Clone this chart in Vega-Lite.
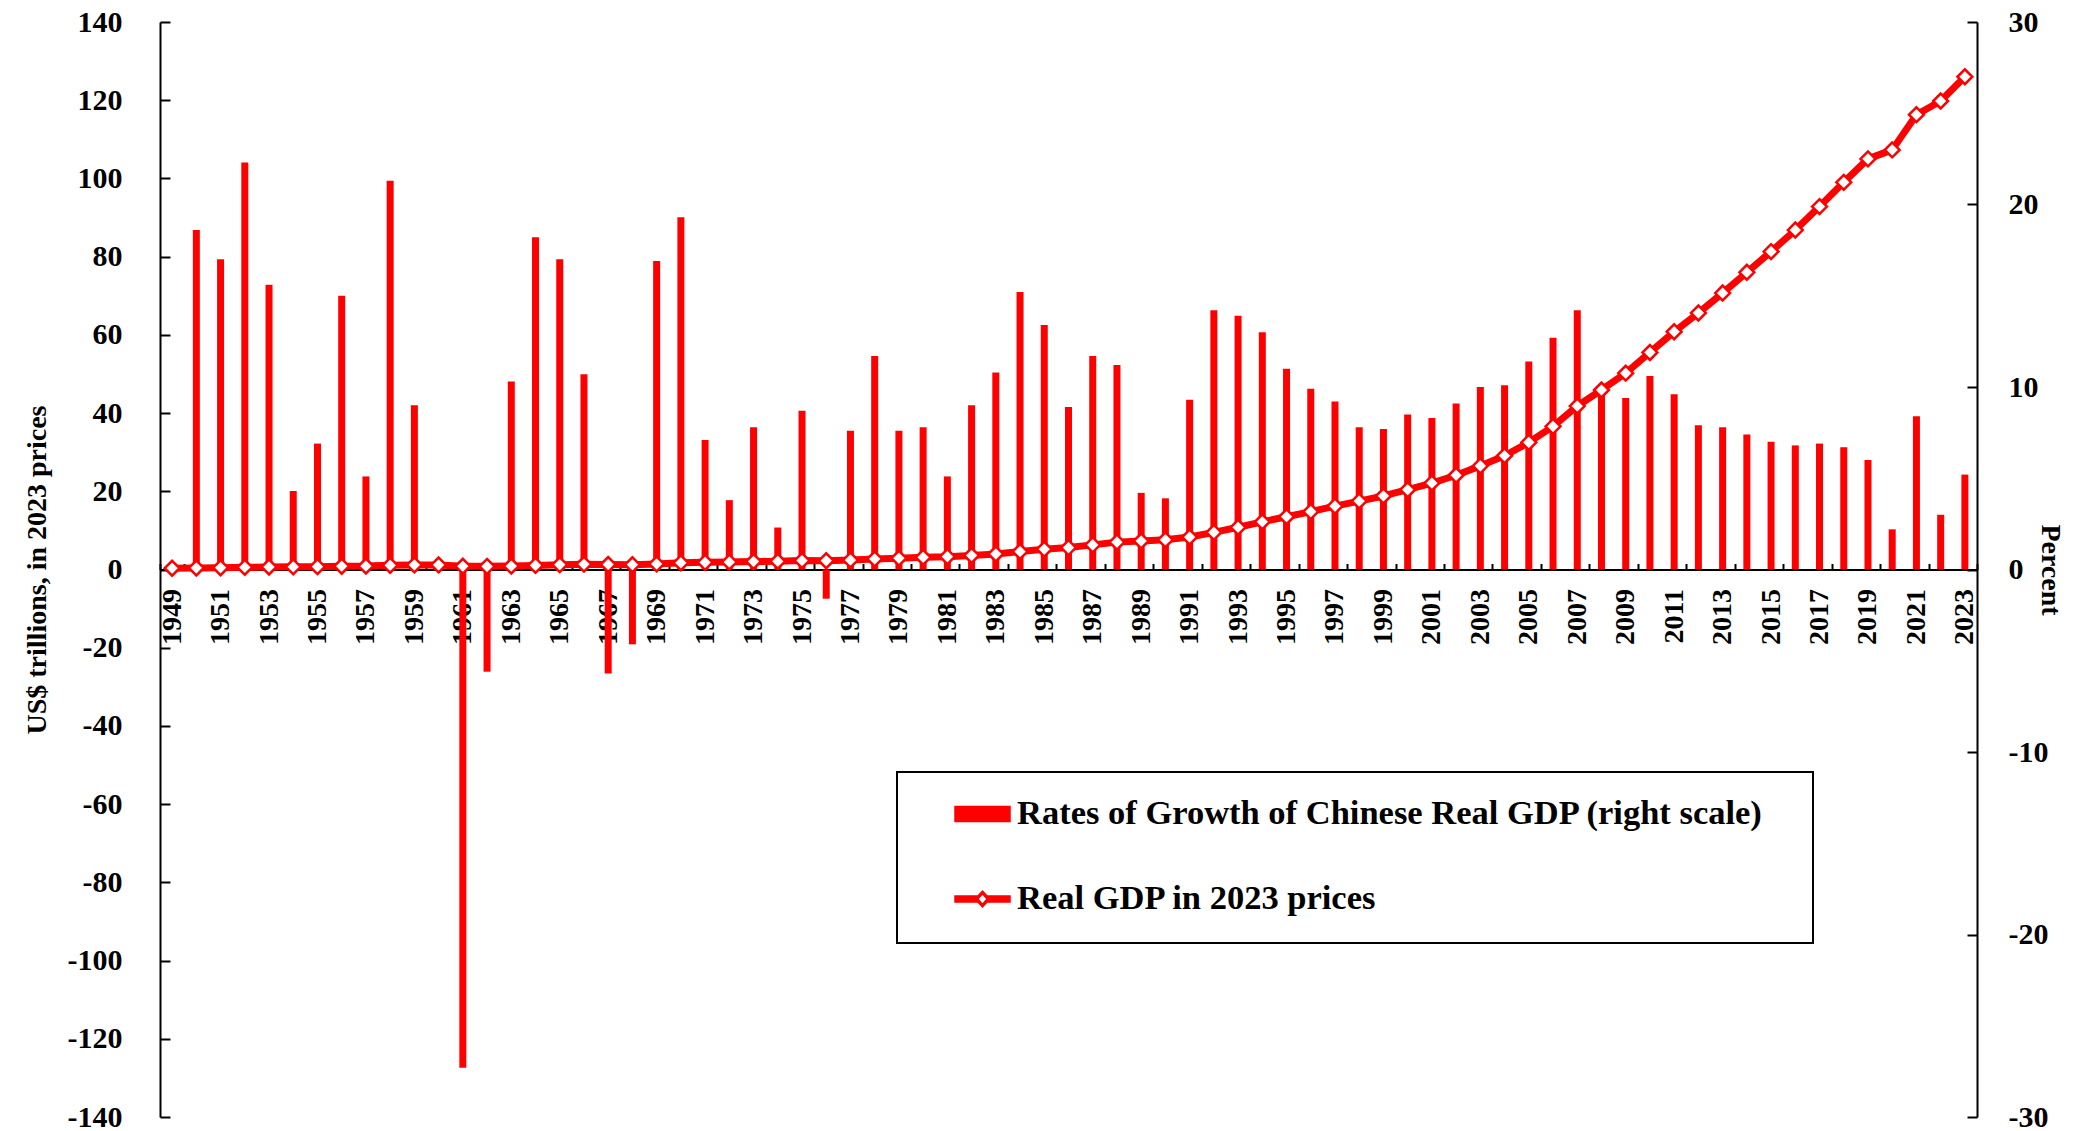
{
  "$schema": "https://vega.github.io/schema/vega-lite/v6.json",
  "width": 1817,
  "height": 1095,
  "autosize": {"type": "none"},
  "padding": {"left": 160, "top": 22, "right": 96, "bottom": 14},
  "background": "white",
  "config": {
    "view": {"stroke": null},
    "font": "Liberation Serif",
    "axis": {
      "domainColor": "black", "domainWidth": 2, "tickColor": "black", "tickWidth": 2,
      "labelFont": "Liberation Serif", "labelFontWeight": "bold", "labelColor": "black",
      "titleFont": "Liberation Serif", "titleFontWeight": "bold", "titleColor": "black",
      "grid": false
    }
  },
  "data": {"values": [
    {"year": "1949", "growth": 0, "gdp": 0.33},
    {"year": "1950", "growth": 18.6, "gdp": 0.39},
    {"year": "1951", "growth": 17.0, "gdp": 0.46},
    {"year": "1952", "growth": 22.3, "gdp": 0.56},
    {"year": "1953", "growth": 15.6, "gdp": 0.65},
    {"year": "1954", "growth": 4.3, "gdp": 0.68},
    {"year": "1955", "growth": 6.9, "gdp": 0.73},
    {"year": "1956", "growth": 15.0, "gdp": 0.84},
    {"year": "1957", "growth": 5.1, "gdp": 0.88},
    {"year": "1958", "growth": 21.3, "gdp": 1.07},
    {"year": "1959", "growth": 9.0, "gdp": 1.17},
    {"year": "1960", "growth": 0.0, "gdp": 1.17},
    {"year": "1961", "growth": -27.3, "gdp": 0.85},
    {"year": "1962", "growth": -5.6, "gdp": 0.80},
    {"year": "1963", "growth": 10.3, "gdp": 0.89},
    {"year": "1964", "growth": 18.2, "gdp": 1.05},
    {"year": "1965", "growth": 17.0, "gdp": 1.23},
    {"year": "1966", "growth": 10.7, "gdp": 1.36},
    {"year": "1967", "growth": -5.7, "gdp": 1.28},
    {"year": "1968", "growth": -4.1, "gdp": 1.23},
    {"year": "1969", "growth": 16.9, "gdp": 1.43},
    {"year": "1970", "growth": 19.3, "gdp": 1.71},
    {"year": "1971", "growth": 7.1, "gdp": 1.83},
    {"year": "1972", "growth": 3.8, "gdp": 1.90},
    {"year": "1973", "growth": 7.8, "gdp": 2.05},
    {"year": "1974", "growth": 2.3, "gdp": 2.10},
    {"year": "1975", "growth": 8.7, "gdp": 2.28},
    {"year": "1976", "growth": -1.6, "gdp": 2.24},
    {"year": "1977", "growth": 7.6, "gdp": 2.41},
    {"year": "1978", "growth": 11.7, "gdp": 2.70},
    {"year": "1979", "growth": 7.6, "gdp": 2.90},
    {"year": "1980", "growth": 7.8, "gdp": 3.13},
    {"year": "1981", "growth": 5.1, "gdp": 3.29},
    {"year": "1982", "growth": 9.0, "gdp": 3.59},
    {"year": "1983", "growth": 10.8, "gdp": 3.97},
    {"year": "1984", "growth": 15.2, "gdp": 4.6},
    {"year": "1985", "growth": 13.4, "gdp": 5.2},
    {"year": "1986", "growth": 8.9, "gdp": 5.6},
    {"year": "1987", "growth": 11.7, "gdp": 6.3},
    {"year": "1988", "growth": 11.2, "gdp": 7.0},
    {"year": "1989", "growth": 4.2, "gdp": 7.3},
    {"year": "1990", "growth": 3.9, "gdp": 7.6},
    {"year": "1991", "growth": 9.3, "gdp": 8.3},
    {"year": "1992", "growth": 14.2, "gdp": 9.5},
    {"year": "1993", "growth": 13.9, "gdp": 10.8},
    {"year": "1994", "growth": 13.0, "gdp": 12.2},
    {"year": "1995", "growth": 11.0, "gdp": 13.5},
    {"year": "1996", "growth": 9.9, "gdp": 14.8},
    {"year": "1997", "growth": 9.2, "gdp": 16.2},
    {"year": "1998", "growth": 7.8, "gdp": 17.5},
    {"year": "1999", "growth": 7.7, "gdp": 18.8},
    {"year": "2000", "growth": 8.5, "gdp": 20.4},
    {"year": "2001", "growth": 8.3, "gdp": 22.1},
    {"year": "2002", "growth": 9.1, "gdp": 24.1},
    {"year": "2003", "growth": 10.0, "gdp": 26.5},
    {"year": "2004", "growth": 10.1, "gdp": 29.1},
    {"year": "2005", "growth": 11.4, "gdp": 32.5},
    {"year": "2006", "growth": 12.7, "gdp": 36.6},
    {"year": "2007", "growth": 14.2, "gdp": 41.8},
    {"year": "2008", "growth": 9.7, "gdp": 45.9},
    {"year": "2009", "growth": 9.4, "gdp": 50.2},
    {"year": "2010", "growth": 10.6, "gdp": 55.5},
    {"year": "2011", "growth": 9.6, "gdp": 60.8},
    {"year": "2012", "growth": 7.9, "gdp": 65.6},
    {"year": "2013", "growth": 7.8, "gdp": 70.7},
    {"year": "2014", "growth": 7.4, "gdp": 76.0},
    {"year": "2015", "growth": 7.0, "gdp": 81.3},
    {"year": "2016", "growth": 6.8, "gdp": 86.8},
    {"year": "2017", "growth": 6.9, "gdp": 92.8},
    {"year": "2018", "growth": 6.7, "gdp": 99.0},
    {"year": "2019", "growth": 6.0, "gdp": 105.0},
    {"year": "2020", "growth": 2.2, "gdp": 107.3},
    {"year": "2021", "growth": 8.4, "gdp": 116.3},
    {"year": "2022", "growth": 3.0, "gdp": 119.8},
    {"year": "2023", "growth": 5.2, "gdp": 126.0}
  ]},
  "encoding": {
    "x": {
      "field": "year", "type": "ordinal",
      "scale": {"paddingInner": 0, "paddingOuter": 0},
      "axis": {
        "orient": "bottom", "offset": -547.5, "title": null,
        "labelAngle": -90, "labelFontSize": 28, "labelPadding": 25,
        "tickSize": -6, "tickBand": "extent",
        "values": ["1949","1951","1953","1955","1957","1959","1961","1963","1965","1967","1969","1971","1973","1975","1977","1979","1981","1983","1985","1987","1989","1991","1993","1995","1997","1999","2001","2003","2005","2007","2009","2011","2013","2015","2017","2019","2021","2023"]
      }
    }
  },
  "layer": [
    {
      "mark": {"type": "bar", "width": 7},
      "encoding": {
        "y": {
          "field": "growth", "type": "quantitative",
          "scale": {"domain": [-30, 30], "nice": false},
          "axis": {
            "orient": "right", "title": "Percent", "titleAngle": 90, "titleFontSize": 28, "titlePadding": -12,
            "values": [-30, -20, -10, 0, 10, 20, 30], "labelFontSize": 30,
            "labelExpr": "'' + datum.value",
            "tickSize": -10, "labelPadding": 41
          }
        },
        "color": {
          "datum": "Rates of Growth of Chinese Real  GDP (right scale)",
          "scale": {
            "domain": ["Rates of Growth of Chinese Real  GDP (right scale)", "Real GDP in 2023 prices"],
            "range": ["#ff0000", "#ff0000"]
          },
          "legend": {
            "orient": "none", "legendX": 737, "legendY": 750, "direction": "vertical",
            "title": null, "padding": 13.5, "strokeColor": "black", "fillColor": "white",
            "symbolSize": 3025, "symbolOffset": 43.5, "labelOffset": 6, "rowPadding": 24,
            "labelFont": "Liberation Serif", "labelFontWeight": "bold", "labelFontSize": 34.5,
            "labelColor": "black", "labelLimit": 0,
            "encode": {
              "legend": {"update": {"strokeWidth": {"value": 2}}},
              "symbols": {
                "update": {
                  "shape": {"signal": "datum.value === 'Real GDP in 2023 prices' ? 'M-1,-0.109H-0.15V0.109H-1Z M0.15,-0.109H1V0.109H0.15Z M-0.27,0L0,-0.29L0.27,0L0,0.29Z M-0.17,0L0,0.19L0.17,0L0,-0.19Z M0,-1 M0,1 M29.6,0' : 'M-1,-0.273H1V0.273H-1Z M0,-1 M0,1 M29.6,0'"},
                  "fill": {"value": "#ff0000"},
                  "stroke": {"value": "transparent"},
                  "opacity": {"value": 1},
                  "fillOpacity": {"value": 1},
                  "size": {"value": 3025}
                }
              }
            }
          }
        }
      }
    },
    {
      "mark": {
        "type": "line", "strokeWidth": 7, "strokeJoin": "round",
        "point": {"shape": "diamond", "size": 220, "filled": false, "fill": "white", "stroke": "#ff0000", "strokeWidth": 2.5}
      },
      "encoding": {
        "y": {
          "field": "gdp", "type": "quantitative",
          "scale": {"domain": [-140, 140], "nice": false},
          "axis": {
            "orient": "left", "title": "US$ trillions, in 2023 prices", "titleFontSize": 28, "titlePadding": 16,
            "values": [-140, -120, -100, -80, -60, -40, -20, 0, 20, 40, 60, 80, 100, 120, 140],
            "labelExpr": "'' + datum.value",
            "labelFontSize": 30, "tickSize": -10, "labelPadding": 48
          }
        },
        "color": {"datum": "Real GDP in 2023 prices"}
      }
    }
  ],
  "resolve": {"scale": {"y": "independent"}}
}
